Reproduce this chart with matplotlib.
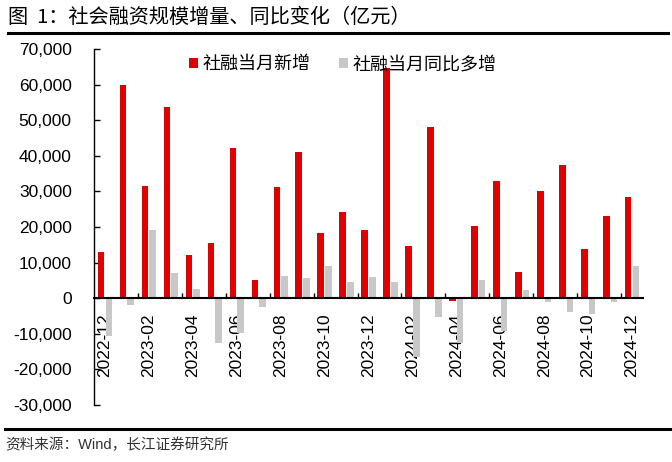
import numpy as np
import matplotlib
matplotlib.use("Agg")
import matplotlib.pyplot as plt
from matplotlib.ticker import FuncFormatter

# Datos (亿元)
months = ["2022-12", "2023-01", "2023-02", "2023-03", "2023-04", "2023-05", "2023-06",
          "2023-07", "2023-08", "2023-09", "2023-10", "2023-11", "2023-12",
          "2024-01", "2024-02", "2024-03", "2024-04", "2024-05", "2024-06",
          "2024-07", "2024-08", "2024-09", "2024-10", "2024-11", "2024-12"]
new_tsf = [13100, 59800, 31400, 53800, 12100, 15400, 42100, 5200, 31200, 41200,
           18300, 24300, 19200, 64700, 14800, 48200, -650, 20400, 32800,
           7500, 30200, 37500, 13900, 23000, 28400]
yoy_tsf = [-10500, -1900, 19200, 7050, 2700, -12700, -9700, -2400, 6300, 5700,
           9100, 4450, 6050, 4600, -16400, -5400, -12700, 5000, -9300,
           2200, -950, -3750, -4300, -1200, 9100]

label_new = "社融当月新增"
label_yoy = "社融当月同比多增"
title = "图  1：社会融资规模增量、同比变化（亿元）"
source = "资料来源：Wind，长江证券研究所"

plt.rcParams['font.family'] = ['Liberation Sans', 'Noto Sans CJK SC', 'DejaVu Sans']

fig = plt.figure(figsize=(6.72, 4.62), dpi=100)
ax = fig.add_axes([94 / 672, 1 - 405 / 462, 549 / 672, 356 / 462])

x = np.arange(len(months))
w = 0.3
ax.bar(x - 0.175, new_tsf, width=w, color="#E00000", label=label_new, zorder=2)
ax.bar(x + 0.175, yoy_tsf, width=w, color="#C8C8C8", label=label_yoy, zorder=2)

ax.set_xlim(-0.5, len(months) - 0.5)
ax.set_ylim(-30000, 70000)
ax.set_yticks(np.arange(-30000, 70001, 10000))
ax.yaxis.set_major_formatter(FuncFormatter(lambda v, p: f"{int(v):,}"))

# Ejes: línea en cero, sin marco superior/derecho
ax.spines['top'].set_visible(False)
ax.spines['right'].set_visible(False)
ax.spines['bottom'].set_position(('data', 0))
ax.spines['bottom'].set_linewidth(1.5)
ax.spines['left'].set_linewidth(1.0)
ax.spines['bottom'].set_zorder(3)

ax.set_xticks(x[::2])
ax.set_xticklabels(months[::2], rotation=90, fontsize=12.5)
ax.tick_params(axis='x', which='major', length=0, pad=11)
ax.set_xticks(np.arange(1.5, len(months) - 1, 2), minor=True)
ax.tick_params(axis='x', which='minor', direction='in', length=3.5, width=1)
ax.tick_params(axis='y', direction='in', length=4, width=1, labelsize=12.5, pad=16)

ax.legend(loc='upper center', bbox_to_anchor=(343 / 672, 1 - 40 / 462),
          bbox_transform=fig.transFigure, ncol=2, frameon=False, fontsize=13,
          handlelength=0.5, handleheight=0.5, handletextpad=0.25, columnspacing=1.6)

# Título, líneas y fuente
fig.text(8 / 672, 1 - 17 / 462, title, fontsize=14.5, va='center', ha='left',
         family=['Noto Sans CJK SC', 'DejaVu Sans'])
fig.add_artist(plt.Line2D([8 / 672, 668 / 672], [1 - 33 / 462] * 2, color='black', lw=2.2))
fig.add_artist(plt.Line2D([5 / 672, 1.0], [1 - 429 / 462] * 2, color='black', lw=2.2))
fig.text(5 / 672, 1 - 445 / 462, source, fontsize=10.5, va='center', ha='left', color='#333333')

fig.savefig("out.png", dpi=100)
